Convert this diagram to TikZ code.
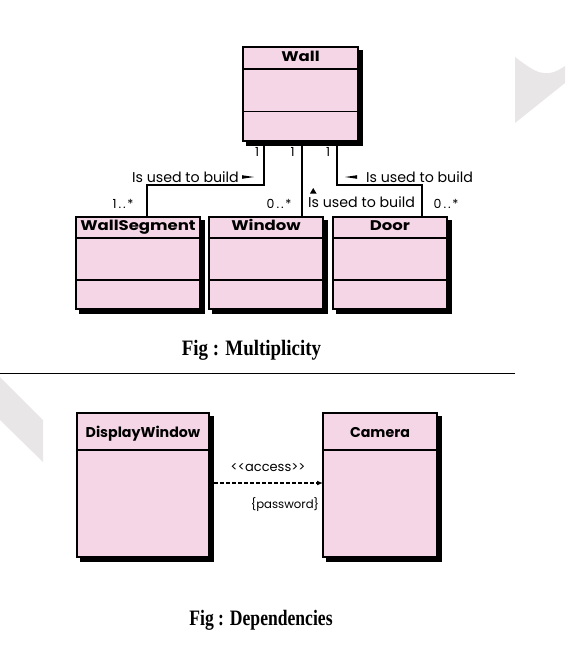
\documentclass[tikz,border=0pt]{standalone}
\usepackage{fontspec}
\setmainfont{Liberation Serif}
\newfontfamily\popp{Poppins}
\usetikzlibrary{shadows,arrows.meta}
\definecolor{umlpink}{HTML}{F5D6E6}
\definecolor{wmgrey}{HTML}{E9E6E8}
\begin{document}
\begin{tikzpicture}[x=1pt,y=-1pt,
  classbox/.style={draw=black, line width=1.8pt, fill=umlpink, inner sep=0pt, outer sep=0pt,
    copy shadow={shadow xshift=4pt, shadow yshift=-4pt, fill=black, draw=black, opacity=1}},
  compline/.style={line width=1.4pt},
  clsname/.style={font=\popp\bfseries\fontsize{14}{16}\selectfont, inner sep=0pt, xscale=1.18, anchor=base},
  clsnamebig/.style={font=\popp\bfseries\fontsize{14.2}{17}\selectfont, inner sep=0pt, anchor=base},
  lbl/.style={font=\popp\fontsize{14.2}{16}\selectfont, inner sep=0pt},
  mult/.style={font=\popp\fontsize{12.5}{15}\selectfont, inner sep=0pt},
  conn/.style={line width=1.8pt},
  caption/.style={font=\bfseries\fontsize{22}{26}\selectfont, inner sep=0pt, xscale=0.86}
]
\useasboundingbox (0,0) rectangle (565,650);
% watermark shapes
\fill[wmgrey] (515,57) .. controls (535,72) and (545,80) .. (565,66) -- (565,83) -- (515,123) -- cycle;
\fill[wmgrey] (0,377) -- (43,420) -- (43,462) -- (0,420) -- cycle;

% ---------- Multiplicity ----------
\node[classbox, minimum width=115pt, minimum height=94pt] (wall) at (300.5,94) {};
\node[classbox, minimum width=124pt, minimum height=92pt] (ws) at (138,263) {};
\node[classbox, minimum width=114pt, minimum height=92pt] (win) at (266,263) {};
\node[classbox, minimum width=114pt, minimum height=92pt] (door) at (390,263) {};

\node[clsname] (wallT) at ([yshift=-14.5pt]wall.north) {Wall};
\draw[compline] ([yshift=-22pt]wall.north west) -- ([yshift=-22pt]wall.north east);
\draw[compline] ([yshift=-64.5pt]wall.north west) -- ([yshift=-64.5pt]wall.north east);

\foreach \n/\t in {ws/WallSegment, win/Window, door/Door}{
  \node[clsname] (\n T) at ([yshift=-13.2pt]\n.north) {\t};
  \draw[compline] ([yshift=-21pt]\n.north west) -- ([yshift=-21pt]\n.north east);
  \draw[compline] ([yshift=-63pt]\n.north west) -- ([yshift=-63pt]\n.north east);
}

% connectors
\draw[conn] ([xshift=-36.5pt]wall.south) -- ++(0,44) -| ([xshift=9pt]ws.north);
\draw[conn] ([xshift=1.5pt]wall.south) -- ([xshift=1.5pt]wall.south |- win.north);
\draw[conn] ([xshift=36.5pt]wall.south) -- ++(0,44) -| ([xshift=32pt]door.north);

% multiplicities
\node[mult] (m1) at (257,151.7) {1};
\node[mult] (m2) at (292.5,151.7) {1};
\node[mult] (m3) at (328,151.7) {1};
\node[mult] (m4) at (123,204.3) {1\kern2pt.\kern2pt.\kern1.5pt*};
\node[mult] (m5) at (279,204.3) {0\kern2pt.\kern2pt.\kern1.5pt*};
\node[mult] (m6) at (446,204.3) {0\kern2pt.\kern2pt.\kern1.5pt*};

% role labels
\node[lbl, anchor=east] (r1) at (239,177) {Is used to build};
\fill ([xshift=3pt,yshift=1.8pt]r1.east) -- ([xshift=15pt]r1.east) -- ([xshift=3pt,yshift=-1.8pt]r1.east) -- cycle;
\node[lbl, anchor=west] (r3) at (366,177) {Is used to build};
\fill ([xshift=-9pt,yshift=1.8pt]r3.west) -- ([xshift=-21pt]r3.west) -- ([xshift=-9pt,yshift=-1.8pt]r3.west) -- cycle;
\node[lbl, anchor=west] (r2) at (308,201.7) {Is used to build};
\fill (310,193.5) -- (316.5,193.5) -- (313.25,188) -- cycle;

\node[caption] (cap1) at (251.5,350) {Fig : Multiplicity};
\draw[line width=1.5pt] (0,373.3) -- (515,373.3);

% ---------- Dependencies ----------
\node[classbox, minimum width=132pt, minimum height=144pt] (dw) at (143,485) {};
\node[classbox, minimum width=114pt, minimum height=144pt] (cam) at (380,485) {};
\node[clsnamebig] (dwT) at ([yshift=-24.3pt]dw.north) {DisplayWindow};
\node[clsnamebig] (camT) at ([yshift=-24.3pt]cam.north) {Camera};
\draw[compline] ([yshift=-37pt]dw.north west) -- ([yshift=-37pt]dw.north east);
\draw[compline] ([yshift=-37pt]cam.north west) -- ([yshift=-37pt]cam.north east);

\draw[line width=1.6pt, dash pattern=on 4pt off 2pt, -{Latex[length=6pt,width=5pt]}]
  ([xshift=5pt,yshift=2pt]dw.east) -- ([yshift=2pt]cam.west);
\node[lbl, font=\popp\fontsize{13}{15}\selectfont] (acc) at (268,467.3) {<<access>>};
\node[lbl, font=\popp\fontsize{11.7}{14}\selectfont] (pw) at (285,505) {\{password\}};

\node[caption, xscale=0.93] (cap2) at (261,620) {Fig : Dependencies};
\end{tikzpicture}
\end{document}
